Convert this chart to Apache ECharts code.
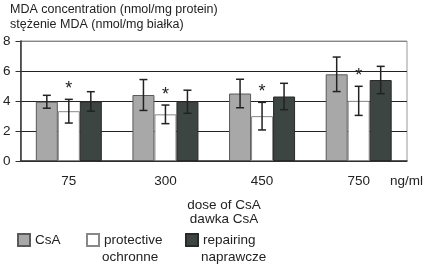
<!DOCTYPE html>
<html>
<head>
<meta charset="utf-8">
<script src="https://cdn.jsdelivr.net/npm/echarts@6/dist/echarts.min.js"></script>
<style>
  html, body { margin: 0; padding: 0; background: #fff; }
  #chart { width: 430px; height: 264px; }
</style>
</head>
<body>
<div id="chart"></div>
<script>
// doses (ng/ml)
const categories = ['75', '300', '450', '750']
const yTicks = [0, 2, 4, 6, 8]

// MDA concentration, mean and SD
const csa = [3.95, 4.4, 4.5, 5.78]
const csaErr = [0.43, 1.03, 0.95, 1.15]
const protective = [3.32, 3.11, 2.99, 4.01]
const protectiveErr = [0.79, 0.62, 0.92, 0.97]
const repairing = [3.97, 3.95, 4.3, 5.4]
const repairingErr = [0.65, 0.77, 0.88, 0.91]
// * marks over protective bars
const significant = [true, true, true, true]

// legend: english name / polish second line
const seriesNames = ['CsA', 'protective', 'repairing']
const seriesNamesPl = ['', 'ochronne', 'naprawcze']

const FONT = '"Liberation Sans", Arial, sans-serif'
const TXT = '#222'
const FS = 13.5
const BAR_W = 22

const dom = document.getElementById('chart')
const myChart = echarts.init(dom, null, { renderer: 'canvas' })

function errSeries (name, means, errs, offset, stars) {
  return {
    type: 'custom',
    name: name + ' err',
    z: 5,
    silent: true,
    data: means.map((m, i) => [i, m, errs[i], stars && stars[i] ? 1 : 0]),
    encode: { x: 0, y: 1 },
    renderItem: function (params, api) {
      const i = api.value(0)
      const m = api.value(1)
      const e = api.value(2)
      const top = api.coord([i, m + e])
      const bot = api.coord([i, m - e])
      const x = top[0] + offset
      const cap = 4
      const style = { stroke: '#222', lineWidth: 1.5 }
      const children = [
        { type: 'line', shape: { x1: x, y1: top[1], x2: x, y2: bot[1] }, style },
        { type: 'line', shape: { x1: x - cap, y1: top[1], x2: x + cap, y2: top[1] }, style },
        { type: 'line', shape: { x1: x - cap, y1: bot[1], x2: x + cap, y2: bot[1] }, style }
      ]
      if (api.value(3)) {
        children.push({
          type: 'text',
          style: {
            text: '*', x: x, y: top[1] - 10,
            fill: '#222', font: '18px ' + FONT,
            align: 'center', verticalAlign: 'middle'
          }
        })
      }
      return { type: 'group', children }
    }
  }
}

const legendLeft = [17, 86, 185]

const option = {
  animation: false,
  textStyle: { fontFamily: FONT, color: TXT },
  title: {
    text: 'MDA concentration (nmol/mg protein)\nstężenie MDA (nmol/mg białka)',
    left: 10,
    top: 2,
    padding: 0,
    textStyle: { fontSize: 12.5, fontWeight: 'normal', color: TXT, lineHeight: 15, fontFamily: FONT }
  },
  grid: {
    left: 16, right: 23, top: 41, bottom: 103,
    show: true, borderColor: '#999', borderWidth: 1
  },
  legend: seriesNames.map((n, k) => ({
    left: legendLeft[k],
    top: 232,
    padding: 0,
    selectedMode: false,
    icon: 'rect',
    itemWidth: 12,
    itemHeight: 12,
    itemGap: 4,
    data: [n],
    textStyle: { fontSize: FS, color: TXT, lineHeight: 16, fontFamily: FONT }
  })),
  xAxis: {
    type: 'category',
    data: categories,
    axisLine: { lineStyle: { color: '#333', width: 1.5 } },
    axisTick: { length: 5, lineStyle: { color: '#333' } },
    axisLabel: { fontSize: FS, color: TXT, margin: 13, fontFamily: FONT }
  },
  yAxis: {
    type: 'value',
    min: yTicks[0],
    max: yTicks[yTicks.length - 1],
    interval: 2,
    axisLine: { show: true, lineStyle: { color: '#333', width: 1.5 } },
    axisTick: { show: true, length: 5, lineStyle: { color: '#333' } },
    axisLabel: { fontSize: FS, color: TXT, margin: 10, fontFamily: FONT },
    splitLine: { lineStyle: { color: ['#222', '#222', '#222', '#222', '#888'], width: 1 } }
  },
  graphic: [
    { type: 'text', x: 390, y: 181, style: { text: 'ng/ml', font: FS + 'px ' + FONT, fill: TXT, verticalAlign: 'middle' } },
    { type: 'text', x: 224, y: 205, style: { text: 'dose of CsA', font: FS + 'px ' + FONT, fill: TXT, align: 'center', verticalAlign: 'middle' } },
    { type: 'text', x: 224, y: 219, style: { text: 'dawka CsA', font: FS + 'px ' + FONT, fill: TXT, align: 'center', verticalAlign: 'middle' } }
  ].concat(seriesNamesPl.map((t, k) => ({
    type: 'text', x: legendLeft[k] + 16, y: 257,
    style: { text: t, font: FS + 'px ' + FONT, fill: TXT, verticalAlign: 'middle' }
  }))),
  series: [
    {
      type: 'bar', name: seriesNames[0], data: csa, barWidth: BAR_W, barGap: '0%',
      itemStyle: { color: '#a8a8a8', borderColor: '#5a5a5a', borderWidth: 1 }
    },
    {
      type: 'bar', name: seriesNames[1], data: protective, barWidth: BAR_W, barGap: '0%',
      itemStyle: { color: '#ffffff', borderColor: '#888', borderWidth: 1 }
    },
    {
      type: 'bar', name: seriesNames[2], data: repairing, barWidth: BAR_W, barGap: '0%',
      itemStyle: { color: '#3c4542', borderColor: '#2a2a2a', borderWidth: 1 }
    },
    errSeries('CsA', csa, csaErr, -BAR_W, null),
    errSeries('protective', protective, protectiveErr, 0, significant),
    errSeries('repairing', repairing, repairingErr, BAR_W, null)
  ]
}
if (option && typeof option === 'object') {
  myChart.setOption(option, true)
}
</script>
</body>
</html>
